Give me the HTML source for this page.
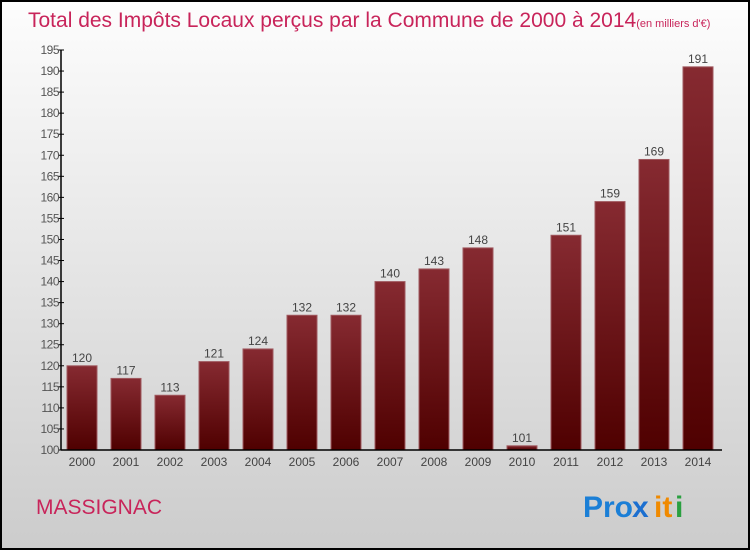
<!DOCTYPE html>
<html><head><meta charset="utf-8"><style>
body{margin:0;width:750px;height:550px;overflow:hidden;font-family:"Liberation Sans",sans-serif}
</style></head><body>
<svg id="c" width="750" height="550" xmlns="http://www.w3.org/2000/svg">
<defs>
<linearGradient id="bg" x1="0" y1="0" x2="0" y2="1"><stop offset="0" stop-color="#fdfdfd"/><stop offset="1" stop-color="#cccccc"/></linearGradient>
<linearGradient id="bar" x1="0" y1="0" x2="0" y2="1"><stop offset="0" stop-color="#862a31"/><stop offset="1" stop-color="#4f0000"/></linearGradient>
</defs>
<rect x="1" y="1" width="748" height="548" fill="url(#bg)" stroke="#000" stroke-width="2"/>
<text x="28" y="27" font-size="21" fill="#c8245a">Total des Impôts Locaux perçus par la Commune de 2000 à 2014<tspan font-size="11">(en milliers d'€)</tspan></text>
<g id="yaxis"></g>
<g id="bars"></g>
<g id="xaxis"></g>
<text x="36" y="514" font-size="21" fill="#c8245a">MASSIGNAC</text>
<g font-size="30" font-weight="bold">
<text x="583" y="517" fill="#1b7fd6">Pro</text><text x="632" y="517" fill="#1b6fd0">x</text><text x="654" y="517" fill="#f08a00">it</text><text x="675" y="517" fill="#2aa040">i</text>
</g>
</svg>
<script>
const years=["2000","2001","2002","2003","2004","2005","2006","2007","2008","2009","2010","2011","2012","2013","2014"];
const values=[120,117,113,121,124,132,132,140,143,148,101,151,159,169,191];
const yTicks=[100,105,110,115,120,125,130,135,140,145,150,155,160,165,170,175,180,185,190,195];
const NS="http://www.w3.org/2000/svg";
const y0=450,y1=50,vmin=100,vmax=195,x0=62,step=44,bw=30;
const Y=v=>y0-(v-vmin)/(vmax-vmin)*(y0-y1);
const X=i=>x0+5+i*step;
function mk(t,a,p){const e=document.createElementNS(NS,t);for(const k in a)e.setAttribute(k,a[k]);p.appendChild(e);return e;}
const ya=document.getElementById('yaxis'),ba=document.getElementById('bars'),xa=document.getElementById('xaxis');
mk('line',{x1:61,y1:y1,x2:61,y2:y0,stroke:'#000','stroke-width':1.5},ya);
yTicks.forEach(v=>{
 const l=mk('line',{x1:58,y1:Y(v),x2:64,y2:Y(v),stroke:'#000'},ya);
 
 
 const t=mk('text',{x:59,y:Y(v)+4,'font-size':12,fill:'#555','text-anchor':'end','letter-spacing':'-0.5'},ya);
 t.textContent=v;
 
 
});
mk('line',{x1:61,y1:y0,x2:722,y2:y0,stroke:'#000','stroke-width':1.5},xa);
years.forEach((yr,i)=>{
 const r=mk('rect',{x:X(i),y:Y(values[i]),width:bw,height:y0-Y(values[i]),fill:'url(#bar)',stroke:'#a05a60','stroke-width':1},ba);
 
 
 const v=mk('text',{x:X(i)+bw/2,y:Y(values[i])-4,'font-size':12,fill:'#444','text-anchor':'middle'},ba);
 v.textContent=values[i];
 
 
 const t=mk('text',{x:X(i)+bw/2,y:466,'font-size':12,fill:'#444','text-anchor':'middle'},xa);
 t.textContent=yr;
 
 
});
</script>
</body></html>
